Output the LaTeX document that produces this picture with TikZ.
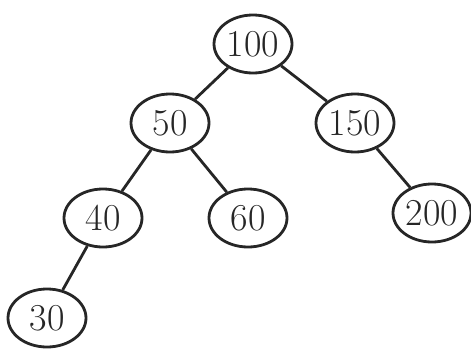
\documentclass[tikz,border=0pt]{standalone}
\usetikzlibrary{shapes.geometric}
\begin{document}
\begin{tikzpicture}[x=1pt,y=-1pt,
  tnode/.style={draw=black!85, line width=2.8pt, ellipse, minimum width=78pt, minimum height=58pt, inner sep=0pt, font=\fontsize{38}{42}\selectfont, text=black!85},
  edge/.style={draw=black!85, line width=2.8pt}]
\useasboundingbox (0,0) rectangle (471,351);
\node[tnode] (n100) at (253,44) {100};
\node[tnode] (n50) at (170,123) {50};
\node[tnode] (n150) at (355,123) {150};
\node[tnode] (n40) at (103,218) {40};
\node[tnode] (n60) at (248,218) {60};
\node[tnode] (n200) at (432,213) {200};
\node[tnode] (n30) at (47,318) {30};
\draw[edge] (n100) -- (n50);
\draw[edge] (n100) -- (n150);
\draw[edge] (n50) -- (n40);
\draw[edge] (n50) -- (n60);
\draw[edge] (n150) -- (n200);
\draw[edge] (n40) -- (n30);
\end{tikzpicture}
\end{document}
